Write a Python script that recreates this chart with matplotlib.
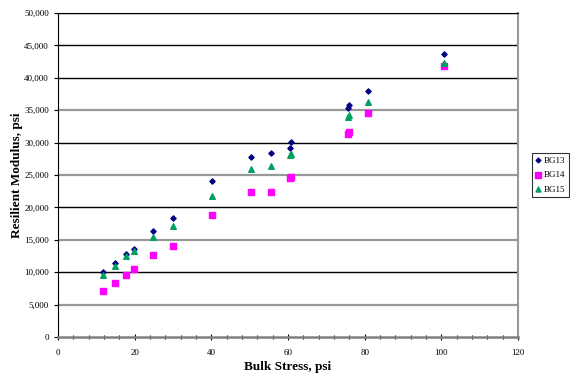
import matplotlib
matplotlib.use("Agg")
import matplotlib.pyplot as plt
from matplotlib.ticker import MultipleLocator, FuncFormatter

x = [11.8, 14.8, 17.8, 19.9, 24.9, 30.0, 40.2, 50.3, 55.6, 60.4, 60.7, 75.6, 76.0, 80.9, 100.8]
bg13 = [10100, 11400, 12850, 13600, 16300, 18350, 24000, 27800, 28400, 29100, 30100, 35400, 35850, 38000, 43650]
bg14 = [7150, 8300, 9600, 10500, 12700, 14000, 18800, 22400, 22300, 24550, 24700, 31400, 31700, 34600, 41850]
bg15 = [9500, 10900, 12500, 13200, 15400, 17150, 21800, 25950, 26350, 28050, 28250, 33900, 34300, 36300, 42250]
yticks = list(range(0, 50001, 5000))

plt.rcParams['font.family'] = ['Liberation Serif', 'DejaVu Serif']
fig = plt.figure(figsize=(5.7, 3.76), dpi=100)
ax = fig.add_axes([58/570, 39/376, 460/570, 324/376])

for yv in yticks[1:]:
    c = '#999999' if (yv // 5000) % 2 == 1 and yv != 45000 else 'black'
    lw = 1.6 if c == '#999999' else 1.0
    ax.axhline(yv, color=c, lw=lw, zorder=1)

ax.scatter(x, bg13, marker='D', s=7, color='#000080', label='BG13', zorder=3)
ax.scatter(x, bg14, marker='s', s=18, color='#ff00ff', label='BG14', zorder=3)
ax.scatter(x, bg15, marker='^', s=16, color='#00a060', label='BG15', zorder=3)

ax.set_xlim(0, 120)
ax.set_ylim(0, 50000)
ax.set_yticks(yticks)
ax.xaxis.set_major_locator(MultipleLocator(20))
ax.xaxis.set_minor_locator(MultipleLocator(4))
ax.yaxis.set_major_formatter(FuncFormatter(lambda v, p: f"{int(v):,}"))
ax.tick_params(axis='both', labelsize=6.5, colors='black')
ax.tick_params(axis='x', which='major', direction='inout', length=5, width=0.8, pad=6)
ax.tick_params(axis='x', which='minor', direction='inout', length=3, width=0.8)
ax.tick_params(axis='y', which='major', direction='out', length=3, width=0.8)

ax.spines['left'].set_color('black')
ax.spines['top'].set_color('black')
ax.spines['bottom'].set_color('#808080')
ax.spines['bottom'].set_linewidth(1.8)
ax.spines['right'].set_color('#999999')
ax.spines['right'].set_linewidth(1.5)

ax.set_xlabel('Bulk Stress, psi', fontsize=9.5, fontweight='bold', labelpad=3)
ax.set_ylabel('Resilient Modulus, psi', fontsize=9.5, fontweight='bold', labelpad=1)

leg = ax.legend(loc='center left', bbox_to_anchor=(1.03, 0.5), fontsize=6.5,
                frameon=True, fancybox=False, edgecolor='black', handlelength=0.6,
                handletextpad=0.3, borderpad=0.4, labelspacing=0.7, markerscale=0.9,
                borderaxespad=0)
leg.get_frame().set_linewidth(0.8)

fig.savefig('out.png', dpi=100)
